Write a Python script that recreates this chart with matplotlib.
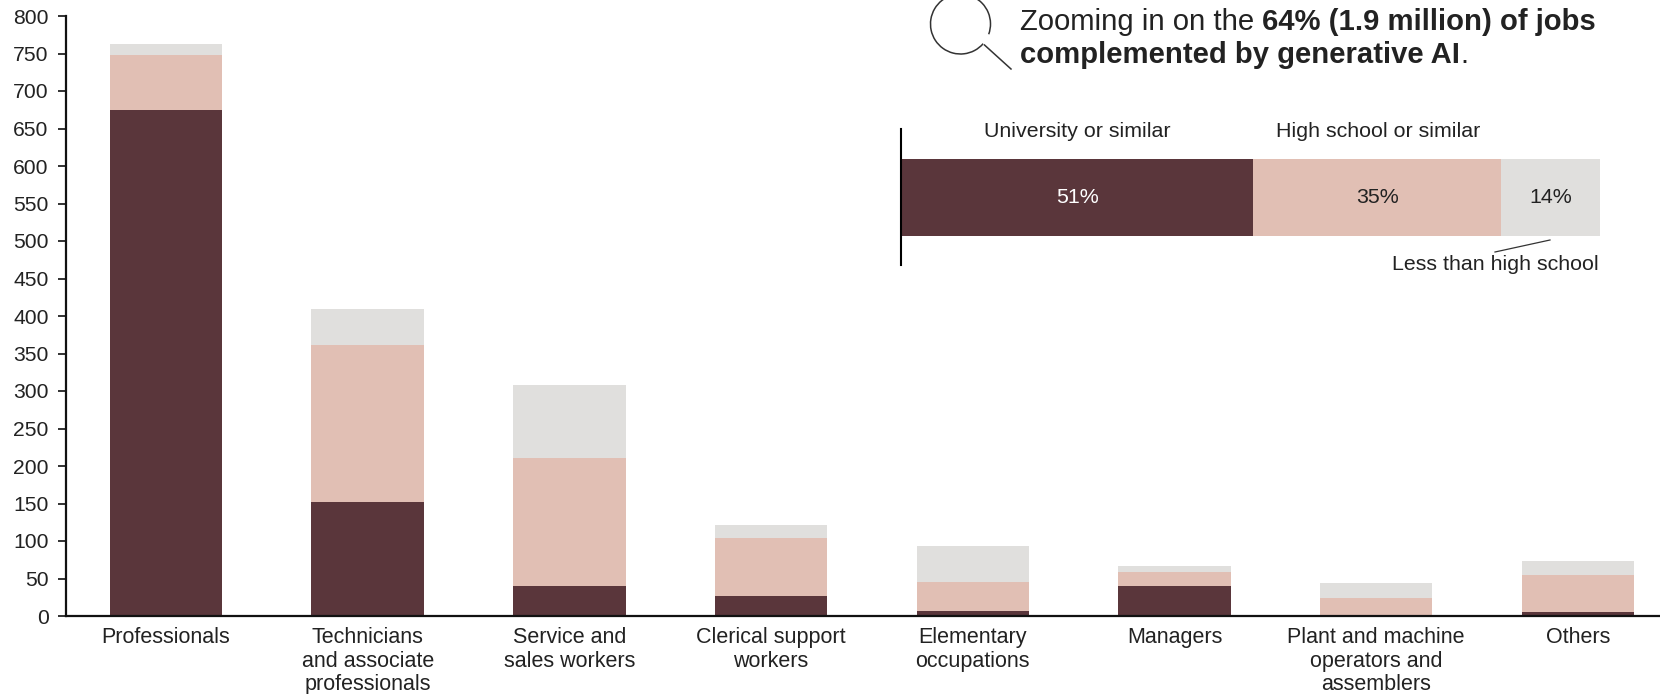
import matplotlib
matplotlib.use("Agg")
import matplotlib.pyplot as plt
from matplotlib.patches import Arc
import numpy as np

plt.rcParams["font.family"] = ["Liberation Sans", "DejaVu Sans"]

W, H = 1660, 694
DARK = "#5a363b"
PINK = "#e1bfb4"
GREY = "#e0dfdd"
INK = "#222222"

categories = [
    "Professionals",
    "Technicians\nand associate\nprofessionals",
    "Service and\nsales workers",
    "Clerical support\nworkers",
    "Elementary\noccupations",
    "Managers",
    "Plant and machine\noperators and\nassemblers",
    "Others",
]
university = [675, 152, 40, 26.5, 7, 40, 2, 6]
high_school = [73, 210, 171, 78, 38, 19, 22, 49]
less_than_hs = [15, 47, 97, 17, 49, 8, 20, 19]

share_labels = ["University or similar", "High school or similar", "Less than high school"]
shares = [50.4, 35.5, 14.1]
share_text = ["51%", "35%", "14%"]
y_ticks = list(range(0, 801, 50))


def px_axes(left, top, right, bottom):
    return fig.add_axes([left / W, 1 - bottom / H, (right - left) / W, (bottom - top) / H])


fig = plt.figure(figsize=(W / 100, H / 100), dpi=100)

# main stacked bars
ax = px_axes(66, 16, 1660, 616)
x = np.arange(len(categories))
bottom = np.zeros(len(categories))
for vals, col in zip([university, high_school, less_than_hs], [DARK, PINK, GREY]):
    ax.bar(x, vals, width=0.558, bottom=bottom, color=col, zorder=2)
    bottom += np.array(vals)
ax.set_xlim(-0.496, 7.407)
ax.set_ylim(0, 800)
ax.set_yticks(y_ticks)
ax.set_xticks(x)
ax.set_xticklabels(categories, linespacing=1.18)
ax.tick_params(axis="y", labelsize=15.2, length=6, width=1.3, pad=6.5, colors=INK)
ax.tick_params(axis="x", labelsize=15.5, length=0, pad=7.7, colors=INK)
for s in ["top", "right"]:
    ax.spines[s].set_visible(False)
for s in ["left", "bottom"]:
    ax.spines[s].set_linewidth(1.6)
    ax.spines[s].set_color("#111111")
    ax.spines[s].set_zorder(3)

# share bar
ins = px_axes(901, 159, 1600, 236)
left = 0
for val, lab, col, tc in zip(shares, share_text, [DARK, PINK, GREY], ["white", INK, INK]):
    ins.barh(0, val, left=left, height=1, color=col)
    ins.text(left + val / 2, 0, lab, ha="center", va="center", color=tc, fontsize=15.4)
    left += val
ins.set_xlim(0, 100)
ins.set_ylim(-0.5, 0.5)
ins.axis("off")

# overlay in pixel coordinates for the annotations
ov = px_axes(0, 0, W, H)
ov.set_xlim(0, W)
ov.set_ylim(H, 0)
ov.axis("off")
ov.patch.set_alpha(0)

ov.plot([901, 901], [129, 265], color="black", lw=1.5)
ov.text(1077, 131, share_labels[0], ha="center", va="center", fontsize=15.4, color=INK)
ov.text(1378, 131, share_labels[1], ha="center", va="center", fontsize=15.4, color=INK)
ov.text(1599, 264, share_labels[2], ha="right", va="center", fontsize=15.4, color=INK)
ov.plot([1495, 1550], [252, 240], color="#333333", lw=0.9)

# magnifying glass, y axis runs downwards here so angles go clockwise on screen
ov.add_patch(Arc((960.5, 24), 60, 60, theta1=41, theta2=380, color="#333333", lw=1.1))
ov.plot([984.5, 1011], [45, 69], color="#333333", lw=1.1)

# heading, regular and bold runs
r = fig.canvas.get_renderer()
fs = 21.05
t1 = ov.text(1020, 22, "Zooming in on the ", fontsize=fs, va="center", color=INK)
bb = t1.get_window_extent(r)
ov.text(1020 + bb.width, 22, "64% (1.9 million) of jobs", fontsize=fs, va="center",
        fontweight="bold", color=INK)
t2 = ov.text(1020, 55, "complemented by generative AI", fontsize=fs, va="center",
             fontweight="bold", color=INK)
bb = t2.get_window_extent(r)
ov.text(1020 + bb.width, 55, ".", fontsize=fs, va="center", color=INK)

fig.savefig("out.png", dpi=100)
plt.close()
